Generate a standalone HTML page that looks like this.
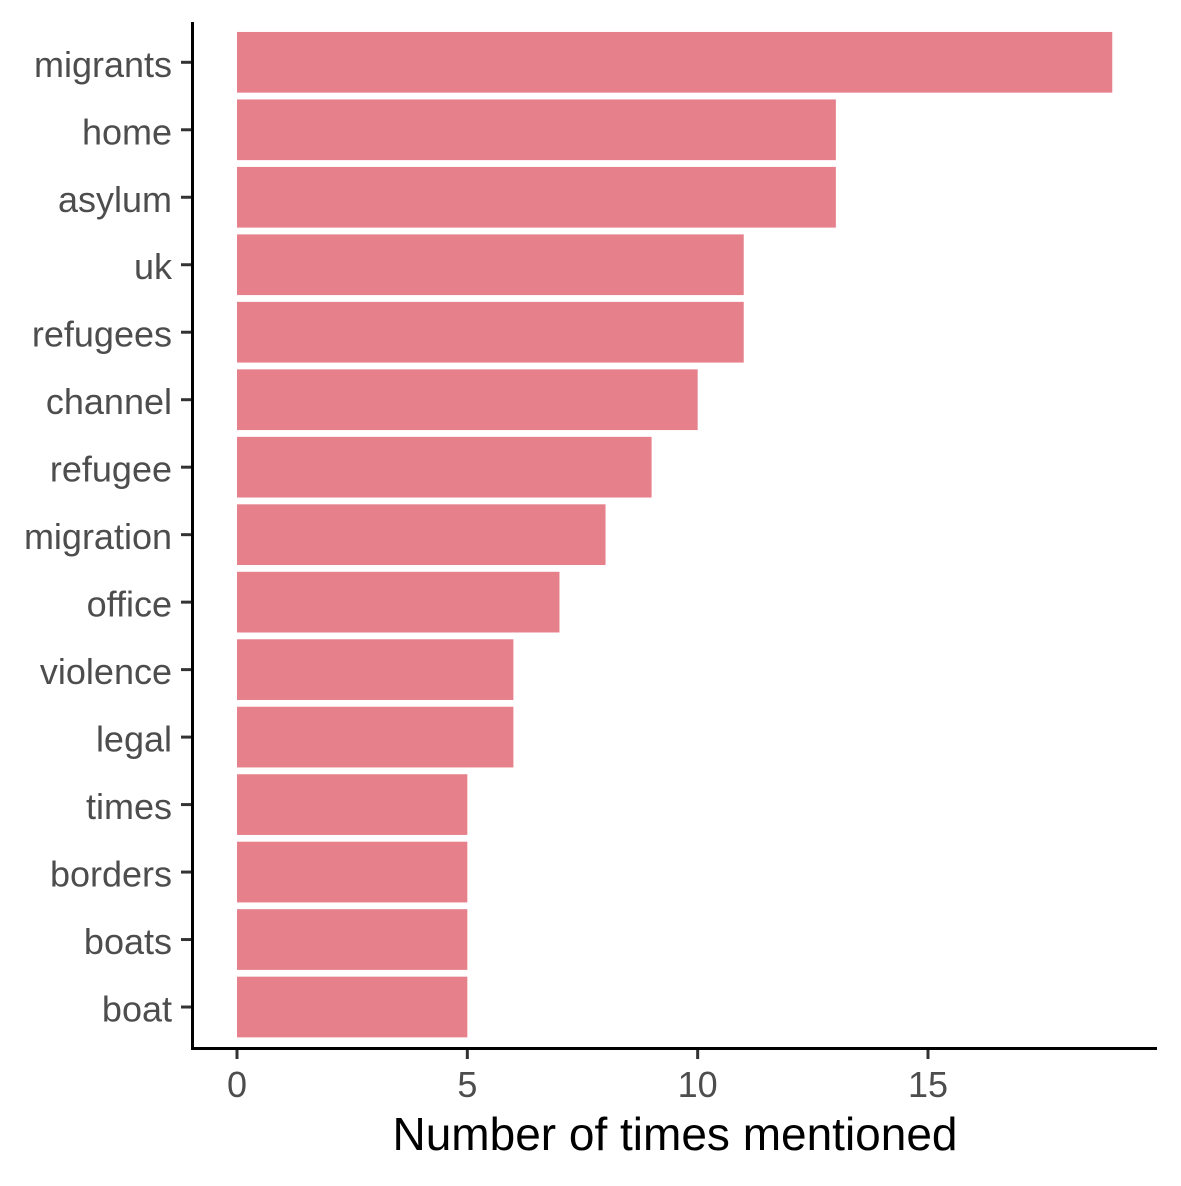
<!DOCTYPE html>
<html><head><meta charset="utf-8"><style>
body{margin:0;background:#fff}
svg text{font-family:"Liberation Sans",Arial,sans-serif}
</style></head><body>
<svg id="chart" width="1181" height="1181" viewBox="0 0 1181 1181" xmlns="http://www.w3.org/2000/svg">
<rect width="1181" height="1181" fill="#fff"/>
<g id="bars"></g>
<g id="yaxis"></g>
<g id="xaxis"></g>
<text x="675" y="1150" font-size="46" text-anchor="middle" fill="#000">Number of times mentioned</text>
</svg>
<script>
const categories = ["migrants","home","asylum","uk","refugees","channel","refugee","migration","office","violence","legal","times","borders","boats","boat"];
const values = [19,13,13,11,11,10,9,8,7,6,6,5,5,5,5];
const xTicks = [0,5,10,15];

const NS="http://www.w3.org/2000/svg";
const x0=237, pxPerUnit=(928-237)/15;
const yFirst=62.3, pitch=67.48, barH=60.7;
const xScale=v=>x0+v*pxPerUnit;
const yScale=i=>yFirst+i*pitch;
function mk(tag,attrs,parent){const e=document.createElementNS(NS,tag);for(const k in attrs)e.setAttribute(k,attrs[k]);parent.appendChild(e);return e;}
const bars=document.getElementById('bars'),ya=document.getElementById('yaxis'),xa=document.getElementById('xaxis');
categories.forEach((c,i)=>{
  const cy=yScale(i);
  const r=mk('rect',{x:xScale(0),y:cy-barH/2,width:xScale(values[i])-xScale(0),height:barH,fill:'#E6808B'},bars);
  
  
  const t=mk('line',{x1:181,x2:192,y1:cy,y2:cy,stroke:'#333','stroke-width':3},ya);
  
  
  const l=mk('text',{x:172,y:cy+14.5,'font-size':36,'text-anchor':'end',fill:'#4d4d4d'},ya);
  l.textContent=c;
  
  
});
xTicks.forEach(v=>{
  const x=xScale(v);
  const t=mk('line',{x1:x,x2:x,y1:1048,y2:1059,stroke:'#333','stroke-width':3},xa);
  
  
  const l=mk('text',{x:x,y:1097,'font-size':36,'text-anchor':'middle',fill:'#4d4d4d'},xa);
  l.textContent=v;
  
  
});
const yl=mk('line',{x1:192.5,x2:192.5,y1:22,y2:1049.5,stroke:'#000','stroke-width':3},ya);


const xl=mk('line',{x1:191,x2:1157,y1:1048.5,y2:1048.5,stroke:'#000','stroke-width':3},xa);


</script>
</body></html>
